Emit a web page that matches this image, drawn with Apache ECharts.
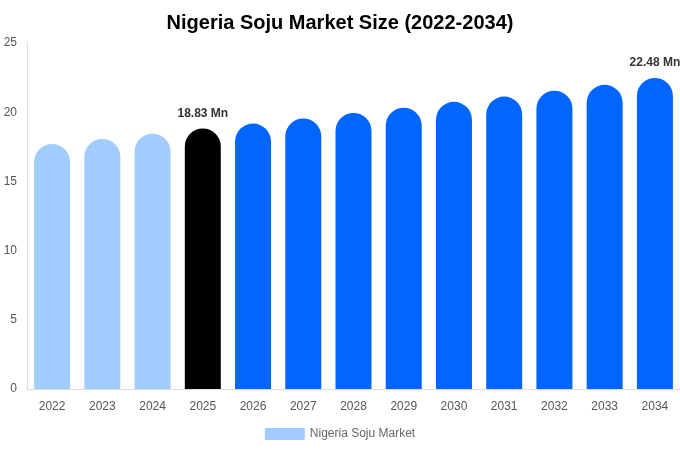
<!DOCTYPE html>
<html>
<head>
    <meta charset="utf-8">
    <title>Nigeria Soju Market Size</title>
    <script src="https://cdn.jsdelivr.net/npm/echarts@6/dist/echarts.min.js"></script>
    <style>
        html, body { margin: 0; padding: 0; background: #fff; }
        #main { width: 680px; height: 450px; }
    </style>
</head>
<body>
<div id="main"></div>
<script type="text/javascript">
    // years and market size (Mn)
    var years = ['2022', '2023', '2024', '2025', '2026', '2027', '2028', '2029', '2030', '2031', '2032', '2033', '2034'];
    var marketSize = [17.7, 18.07, 18.45, 18.83, 19.18, 19.55, 19.95, 20.33, 20.75, 21.13, 21.55, 21.98, 22.48];
    // which bars carry a value label
    var labelled = ['2025', '2034'];

    var LIGHT = '#a0cdfd', BLACK = '#000000', BLUE = '#0066ff';

    function barColor(i) {
        if (i < 3) return LIGHT;
        if (i === 3) return BLACK;
        return BLUE;
    }

    var myChart = echarts.init(document.getElementById('main'));
    myChart.setOption({
        animation: false,
        title: {
            text: 'Nigeria Soju Market Size (2022-2034)',
            left: 'center',
            top: 8,
            textStyle: { fontFamily: 'Liberation Sans', fontSize: 20, fontWeight: 'bold', color: '#000' }
        },
        legend: {
            bottom: 5,
            itemWidth: 40,
            itemHeight: 12,
            icon: 'rect',
            data: [{ name: 'Nigeria Soju Market', itemStyle: { color: LIGHT } }],
            textStyle: { fontFamily: 'Liberation Sans', fontSize: 12, color: '#666' }
        },
        grid: {
            left: 27,
            right: 0,
            top: 43,
            bottom: 61
        },
        xAxis: {
            type: 'category',
            data: years,
            axisLine: { lineStyle: { color: '#ddd' } },
            axisTick: { show: false },
            axisLabel: { color: '#555', fontSize: 12, fontFamily: 'Liberation Sans', margin: 12 }
        },
        yAxis: {
            type: 'value',
            min: 0,
            max: 25,
            interval: 5,
            axisLine: { show: true, lineStyle: { color: '#ddd' } },
            splitLine: { show: false },
            axisTick: { show: false },
            axisLabel: { color: '#555', fontSize: 12, fontFamily: 'Liberation Sans', margin: 10 }
        },
        series: [{
            name: 'Nigeria Soju Market',
            type: 'bar',
            barWidth: 36,
            data: marketSize.map(function (v, i) {
                return {
                    value: v,
                    itemStyle: { color: barColor(i), borderRadius: [18, 18, 0, 0] },
                    label: {
                        show: labelled.indexOf(years[i]) >= 0,
                        position: 'top',
                        distance: 9,
                        formatter: function (p) { return p.value.toFixed(2) + ' Mn'; },
                        fontFamily: 'Liberation Sans',
                        fontWeight: 'bold',
                        fontSize: 12,
                        color: '#333'
                    }
                };
            })
        }]
    });
</script>
</body>
</html>
